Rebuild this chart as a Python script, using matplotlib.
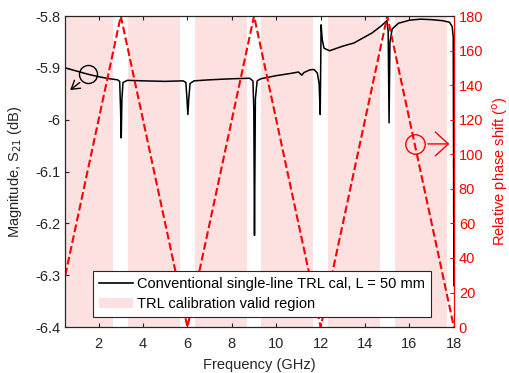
import matplotlib
matplotlib.use("Agg")
import matplotlib.pyplot as plt
from matplotlib.patches import Patch
from matplotlib.lines import Line2D

plt.rcParams['font.family'] = ['Liberation Sans', 'DejaVu Sans']
plt.rcParams['font.size'] = 10.5

# measured |S21| (dB) vs frequency (GHz)
freq = [0.5, 1.0, 1.5, 2.0, 2.5, 2.85, 2.95, 2.99, 3.02, 3.05, 3.1, 3.3,
        4.0, 5.0, 5.8, 5.93, 5.98, 6.02, 6.06, 6.12, 6.3, 7.0, 8.0, 8.8,
        8.95, 8.99, 9.02, 9.06, 9.14, 9.3, 10.0, 10.6, 11.0, 11.1, 11.15,
        11.25, 11.5, 11.7, 11.85, 11.93, 11.98, 12.02, 12.07, 12.15, 12.4,
        13.0, 13.5, 14.0, 14.3, 14.7, 14.98, 15.04, 15.08, 15.12, 15.22,
        15.5, 16.0, 16.5, 17.0, 17.5, 17.8, 17.92, 17.97, 18.0]
mag = [-5.900, -5.906, -5.912, -5.917, -5.921, -5.923, -5.926, -5.98, -6.035,
       -5.96, -5.928, -5.924, -5.925, -5.926, -5.925, -5.928, -5.96, -5.99,
       -5.96, -5.93, -5.925, -5.923, -5.921, -5.920, -5.925, -5.98, -6.223,
       -5.96, -5.925, -5.921, -5.915, -5.911, -5.908, -5.912, -5.914,
       -5.909, -5.904, -5.903, -5.91, -5.93, -5.99, -5.817, -5.845, -5.862,
       -5.867, -5.858, -5.852, -5.84, -5.833, -5.82, -5.809, -5.83, -6.006,
       -5.85, -5.825, -5.814, -5.808, -5.806, -5.807, -5.809, -5.812, -5.82,
       -5.84, -6.32]

# relative phase shift (deg), corner points of the triangle
phase_f = [0.5, 3, 6, 9, 12, 15, 18]
phase = [30, 180, 0, 180, 0, 180, 0]

# TRL valid regions (GHz)
reg_start = [0.5, 3.33, 6.33, 9.33, 12.33, 15.33]
reg_end = [2.67, 5.67, 8.67, 11.67, 14.67, 17.67]

pink = '#fde1e1'
dark = '#262626'

fig = plt.figure(figsize=(5.1, 3.73), dpi=100)
ax1 = fig.add_axes([0.128, 0.123, 0.762, 0.834])
ax2 = ax1.twinx()

for s, e in zip(reg_start, reg_end):
    ax1.axvspan(s, e, color=pink, lw=0, zorder=0)
ax1.plot(freq, mag, color='black', lw=1.1, zorder=3)
ax2.plot(phase_f, phase, color='red', ls='--', lw=1.5)

ax1.set_xlim(0.5, 18)
ax1.set_ylim(-6.4, -5.8)
ax1.set_xticks(range(2, 19, 2))
yt = [-6.4, -6.3, -6.2, -6.1, -6.0, -5.9, -5.8]
ax1.set_yticks(yt)
ax1.set_yticklabels(['-6.4', '-6.3', '-6.2', '-6.1', '-6', '-5.9', '-5.8'])
ax2.set_ylim(0, 180)
ax2.set_yticks(range(0, 181, 20))

ax1.set_xlabel('Frequency (GHz)', color=dark, labelpad=5)
ax1.set_ylabel('Magnitude, S$_{21}$ (dB)', color=dark, labelpad=8)
ax2.set_ylabel('Relative phase shift ($^{\\mathrm{o}}$)', color='red', labelpad=5)

ax1.tick_params(direction='in', length=3, colors=dark, top=True, right=False)
ax1.tick_params(axis='x', pad=7)
ax2.tick_params(direction='in', length=3, colors='red')
for sp in ['left', 'top', 'bottom']:
    ax2.spines[sp].set_color(dark)
ax2.spines['right'].set_color('red')

# circle + arrow annotations
ax1.plot([1.51], [-5.911], marker='o', ms=13, mfc='none', mec='black', mew=1)
ax1.annotate('', xy=(0.62, -5.946), xytext=(1.25, -5.925),
             arrowprops=dict(arrowstyle='->, head_length=0.58, head_width=0.36',
                             color='black', lw=1, mutation_scale=10))
ax2.plot([16.25], [106], marker='o', ms=14, mfc='none', mec='red', mew=1)
ax2.annotate('', xy=(17.92, 106), xytext=(16.7, 106),
             arrowprops=dict(arrowstyle='->, head_length=0.47, head_width=0.43',
                             color='red', lw=1, mutation_scale=20))

handles = [Line2D([], [], color='black', lw=1.2), Patch(facecolor=pink, edgecolor='none')]
labels = ['Conventional single-line TRL cal, L = 50 mm', 'TRL calibration valid region']
leg = ax2.legend(handles, labels, loc='lower left', bbox_to_anchor=(0.072, 0.033),
                 fancybox=False, framealpha=1, edgecolor=dark, handlelength=2.3,
                 borderpad=0.4, labelspacing=0.4, handletextpad=0.3, borderaxespad=0)
leg.get_frame().set_linewidth(0.8)

fig.savefig('out.png', dpi=100)
